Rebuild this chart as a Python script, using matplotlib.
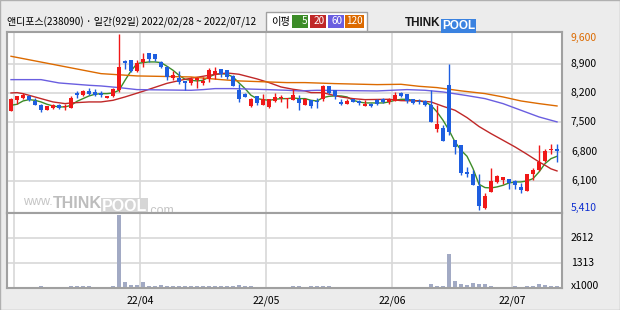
import numpy as np
import pandas as pd
import matplotlib
matplotlib.use("Agg")
from matplotlib import pyplot as plt
from matplotlib.patches import Rectangle

plt.rcParams["font.family"] = ["Noto Sans CJK KR", "DejaVu Sans"]

# ---- data ----
title = "앤디포스(238090) · 일간(92일) 2022/02/28 ~ 2022/07/12"
holidays = ["2022-03-01", "2022-03-09", "2022-05-05", "2022-06-01", "2022-06-06"]

opens = [7771, 8026, 8081, 8129, 8017, 7906, 7803, 7835, 7914, 7859,
         7835, 8200, 8153, 8240, 8224, 8200, 8089, 8129, 8280, 8964,
         8980, 8725, 8948, 9162, 9123, 8932, 8820, 8566, 8566, 8487,
         8439, 8518, 8439, 8542, 8661, 8765, 8741, 8598, 8264, 8169,
         7882, 8121, 7906, 7867, 8002, 8081, 8049, 8026, 8049, 7906,
         8041, 8017, 8065, 8359, 8264, 7986, 7946, 8065, 8009, 7882,
         7930, 8041, 8049, 7994, 8017, 8200, 8169, 8049, 8009, 8001,
         7906, 7334, 7366, 8383, 7072, 6953, 6309, 6277, 5975, 5458,
         5839, 6078, 6126, 6157, 6102, 5959, 5863, 6261, 6356, 6578,
         6849, 6865]
highs = [8081, 8137, 8200, 8145, 8081, 7946, 7898, 7946, 7930, 7946,
         8121, 8248, 8264, 8327, 8304, 8240, 8137, 8327, 9600, 8995,
         8995, 8980, 9162, 9162, 9123, 8964, 8836, 8725, 8725, 8487,
         8582, 8582, 8582, 8797, 8820, 8765, 8757, 8622, 8423, 8200,
         8089, 8121, 8184, 8065, 8200, 8161, 8089, 8304, 8161, 8081,
         8041, 8089, 8383, 8359, 8280, 8049, 8065, 8065, 8025, 8041,
         7962, 8065, 8081, 8081, 8232, 8224, 8184, 8065, 8049, 8025,
         8280, 7906, 7429, 8900, 7072, 6953, 6436, 6373, 6261, 5816,
         6412, 6253, 6189, 6157, 6118, 6054, 6277, 6420, 6952, 6857,
         6976, 6976]
lows = [7771, 7946, 8065, 8001, 7922, 7747, 7787, 7819, 7819, 7787,
        7835, 8073, 8137, 8153, 8129, 8105, 8073, 8105, 8224, 8781,
        8701, 8709, 8820, 8940, 8964, 8797, 8518, 8502, 8423, 8280,
        8383, 8328, 8383, 8463, 8542, 8582, 8542, 8367, 7986, 8105,
        7867, 7906, 7906, 7851, 7986, 7986, 7835, 8026, 7787, 7906,
        7851, 7851, 8009, 8184, 8065, 7906, 7930, 7986, 7906, 7882,
        7859, 7906, 7962, 7946, 8017, 8105, 7970, 7946, 7938, 7898,
        7509, 7270, 7056, 7190, 6738, 6237, 6197, 5999, 5410, 5434,
        5839, 6062, 6022, 5912, 5912, 5816, 5863, 6118, 6340, 6555,
        6753, 6555]
closes = [8049, 8121, 8161, 8033, 7922, 7787, 7882, 7914, 7835, 7882,
          8089, 8153, 8240, 8185, 8145, 8161, 8129, 8304, 8820, 8916,
          8725, 8916, 9011, 9019, 9003, 8820, 8582, 8622, 8463, 8439,
          8526, 8566, 8487, 8741, 8725, 8661, 8582, 8367, 8065, 8105,
          8049, 7962, 8049, 8065, 8105, 8097, 8089, 8145, 7962, 8065,
          7890, 7986, 8359, 8200, 8129, 7938, 8009, 7986, 7962, 7930,
          7882, 7946, 7986, 8025, 8153, 8129, 8009, 7962, 7978, 7906,
          7509, 7453, 7056, 7270, 6913, 6293, 6261, 5999, 5498, 5736,
          6094, 6221, 6189, 6054, 6014, 5879, 6277, 6356, 6555, 6809,
          6873, 6817]
volumes = [70, 70, 70, 70, 70, 120, 70, 70, 70, 70,
           120, 120, 120, 120, 70, 70, 70, 120, 3810, 330,
           175, 175, 330, 105, 105, 155, 105, 105, 105, 105,
           90, 90, 105, 90, 120, 90, 90, 120, 155, 105,
           105, 60, 60, 60, 60, 60, 60, 105, 105, 60,
           105, 105, 105, 105, 60, 60, 60, 60, 60, 60,
           60, 60, 60, 60, 60, 60, 60, 60, 60, 60,
           210, 105, 120, 1790, 365, 225, 175, 260, 225, 225,
           120, 70, 70, 70, 105, 70, 105, 105, 225, 175,
           120, 120]

ma5 = [7906, 7930, 8009, 8041, 8025, 7986, 7930, 7890, 7867, 7867,
       7906, 8001, 8065, 8129, 8169, 8184, 8184, 8200, 8264, 8502,
       8725, 8900, 8924, 8940, 8940, 8924, 8836, 8741, 8622, 8526,
       8502, 8487, 8502, 8582, 8646, 8661, 8646, 8582, 8439, 8304,
       8145, 8065, 8041, 8025, 8049, 8065, 8065, 8081, 8065, 8065,
       8025, 8009, 8089, 8121, 8129, 8129, 8105, 8025, 7986, 7962,
       7962, 7962, 7962, 7986, 8025, 8049, 8049, 8025, 8009, 7986,
       7906, 7747, 7549, 7310, 7032, 6833, 6690, 6396, 6022, 5943,
       5935, 5959, 5998, 6054, 6078, 6078, 6102, 6157, 6316, 6515,
       6634, 6690]
ma20_idx = [0, 1, 2, 5, 7, 9, 10, 13, 15, 17, 19, 22, 26, 29, 30, 32, 33, 36,
            38, 41, 43, 45, 47, 49, 50, 52, 53, 55, 57, 59, 63, 65, 68, 70,
            72, 74, 76, 78, 80, 82, 84, 86, 88, 89, 90, 91]
ma20 = [8200, 8208, 8184, 8065, 7986, 7946, 7962, 7986, 7986, 8025, 8105,
        8240, 8430, 8526, 8550, 8598, 8622, 8677, 8646, 8535, 8447, 8343,
        8288, 8248, 8208, 8208, 8169, 8105, 8065, 8041, 8049, 8017, 8009,
        7986, 7882, 7787, 7612, 7400, 7230, 7072, 6913, 6738, 6555, 6476,
        6390, 6340]
ma60_idx = [0, 5, 8, 13, 15, 18, 21, 30, 32, 34, 37, 41, 46, 48, 51, 61, 66,
            69, 72, 76, 79, 82, 85, 88, 91]
ma60 = [8518, 8518, 8439, 8383, 8367, 8328, 8280, 8264, 8280, 8304, 8304,
        8288, 8264, 8248, 8264, 8248, 8280, 8264, 8224, 8137, 8065, 7946,
        7787, 7628, 7510]
ma120_idx = [0, 15, 21, 30, 35, 38, 46, 49, 54, 61, 65, 68, 71, 75, 79, 82,
             85, 88, 91]
ma120 = [9075, 8661, 8606, 8582, 8518, 8487, 8447, 8447, 8423, 8399, 8407,
         8359, 8328, 8250, 8185, 8105, 8009, 7946, 7890]

price_ticks = [8900, 8200, 7500, 6800, 6100]
vol_ticks = [1313, 2612]

# ---- styles ----
c_up = "#f01818"
c_down = "#1e5ee0"
c_ma = {"5": "#3c8c28", "20": "#c02828", "60": "#6a5ee0", "120": "#dc6a00"}
c_grid = "#d8d8d8"
c_frame = "#a0a0a0"
c_vol = "#a2aac4"
bg = "#ececec"

dates = pd.bdate_range("2022-02-28", "2022-07-12")
dates = dates[~dates.isin(pd.to_datetime(holidays))]
x = np.arange(len(closes))
o, h, l, c = map(np.array, (opens, highs, lows, closes))

fig = plt.figure(figsize=(6.2, 3.1), dpi=100, facecolor=bg)
W, H = 620, 310
ax = fig.add_axes([7 / W, 1 - 213 / H, 555 / W, 181 / H])
axv = fig.add_axes([7 / W, 1 - 288 / H, 555 / W, 75 / H])

xlim = (-0.67, len(x) - 0.17)
for a in (ax, axv):
    a.set_facecolor("white")
    a.set_xlim(*xlim)
    a.set_xticks([])
    a.set_yticks([])
    for s in a.spines.values():
        s.set_color(c_frame)
        s.set_linewidth(1.5)

ax.set_ylim(5337, 9654)
axv.set_ylim(0, 3900)

# month separators
month_pos = [i - 0.5 for i in range(1, len(dates)) if dates[i].month != dates[i - 1].month]
for a in (ax, axv):
    for m in month_pos:
        a.axvline(m, color=c_grid, lw=1.2, zorder=0)
for p in price_ticks:
    ax.axhline(p, color=c_grid, lw=1.2, zorder=0)
for v in vol_ticks:
    axv.axhline(v, color=c_grid, lw=1.2, zorder=0)

# moving averages
ax.plot(x, ma5, color=c_ma["5"], lw=1.0, zorder=2)
ax.plot(ma20_idx, ma20, color=c_ma["20"], lw=1.0, zorder=2)
ax.plot(ma60_idx, ma60, color=c_ma["60"], lw=1.0, zorder=2)
ax.plot(ma120_idx, ma120, color=c_ma["120"], lw=1.0, zorder=2)

# candles
up = c >= o
colors = np.where(up, c_up, c_down)
ax.vlines(x, l, h, colors=colors, lw=1.0, zorder=3)
body_lo = np.minimum(o, c)
body_h = np.maximum(np.abs(c - o), 15)
ax.bar(x, body_h, bottom=body_lo, width=0.75, color=colors, zorder=4)

# volume
axv.bar(x, volumes, width=0.8, color=c_vol, zorder=2)

# right-side labels
ty = ax.get_yaxis_transform()
top_lab = min(max(highs), ax.get_ylim()[1] - 150)
ax.text(1.016, top_lab, f"{max(highs):,}", transform=ty, color="#dc6a00",
        fontsize=7.5, va="center", ha="left", clip_on=False)
for p in price_ticks:
    ax.text(1.016, p, f"{p:,}", transform=ty, color="black", fontsize=7.5,
            va="center", ha="left", clip_on=False)
ax.text(1.016, min(lows) + 40, f"{min(lows):,}", transform=ty, color="#1030d0",
        fontsize=7.5, va="center", ha="left", clip_on=False)
tv = axv.get_yaxis_transform()
for v in vol_ticks:
    axv.text(1.016, v, f"{v}", transform=tv, color="black", fontsize=7.5,
             va="center", ha="left", clip_on=False)
axv.text(1.016, 80, "x1000", transform=tv, color="black", fontsize=7.5,
         va="center", ha="left", clip_on=False)

# month labels
for m, i in zip(month_pos, [int(p + 0.5) for p in month_pos]):
    if i > 5:
        axv.text(m, -0.17, dates[i].strftime("%y/%m"), transform=axv.get_xaxis_transform(),
                 fontsize=7.5, ha="center", va="center", clip_on=False)

# watermark (pieces chained one after another)
wm = dict(family="Liberation Sans", va="baseline")
t1 = ax.text(0.029, 0.045, "www.", transform=ax.transAxes, fontsize=9,
             color="#c4c4c4", ha="left", **wm)
t2 = ax.annotate("THINK", xy=(1, 0), xycoords=t1, fontsize=11.5, fontweight="bold",
                 color="#bdbdbd", ha="left", **wm)
t3 = ax.annotate("POOL", xy=(1, 0), xycoords=t2, fontsize=11.5, fontweight="bold",
                 color="white", ha="left", **wm,
                 bbox=dict(boxstyle="square,pad=0.05", fc="#d6d6d6", ec="none"))
ax.annotate(".com", xy=(1, 0), xycoords=t3, xytext=(1, 0), textcoords="offset points",
            fontsize=9, color="#c4c4c4", ha="left", **wm)

# header
fig.text(7 / W, 1 - 22 / H, title, fontsize=7.2, ha="left", va="center")
fig.patches.append(Rectangle((266 / W, 1 - 31 / H), 101 / W, 19 / H,
                             transform=fig.transFigure, fc="white", ec=c_frame, lw=1.0))
fig.text(271 / W, 1 - 22 / H, "이평", fontsize=7.4, ha="left", va="center")
boxes = [("5", 292, 16), ("20", 310, 16), ("60", 328, 16), ("120", 345, 19)]
for lab, bx, bw in boxes:
    fig.patches.append(Rectangle((bx / W, 1 - 28 / H), bw / W, 13 / H,
                                 transform=fig.transFigure, fc=c_ma[lab], ec="none"))
    fig.text((bx + bw - 1) / W, 1 - 21.5 / H, lab, fontsize=7.2, color="white",
             ha="right", va="center")

# logo
lg = fig.text(405 / W, 1 - 26 / H, "THINK", fontsize=8.5, fontweight="bold",
              color="#1a1a1a", ha="left", va="baseline", family="Liberation Sans")
fig.texts.append(plt.Annotation("POOL", xy=(1, 0), xycoords=lg, xytext=(1, 0),
                                textcoords="offset points", fontsize=8.5,
                                fontweight="bold", color="white", ha="left",
                                va="baseline", family="Liberation Sans",
                                bbox=dict(boxstyle="square,pad=0.1", fc="#3a82e0", ec="none")))
fig.texts[-1].set_figure(fig)

fig.patches.append(Rectangle((0, 0), 1, 1, transform=fig.transFigure,
                             fc="none", ec="#b0b0b0", lw=1.0))

fig.savefig("out.png", dpi=100, facecolor=bg)
